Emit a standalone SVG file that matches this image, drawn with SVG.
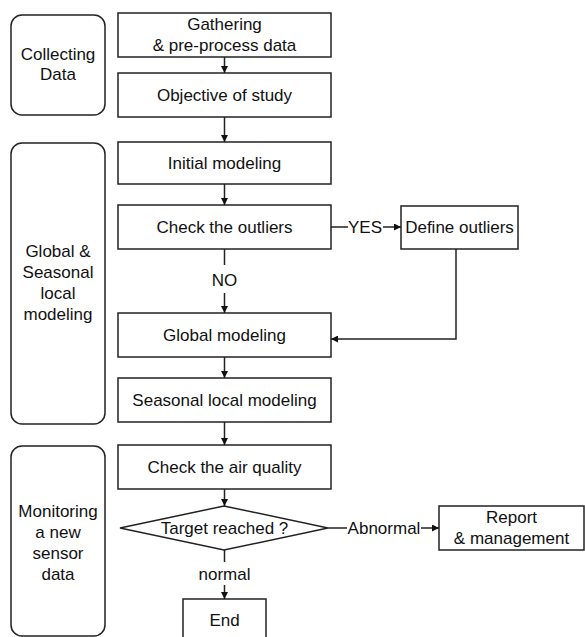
<svg xmlns="http://www.w3.org/2000/svg" width="585" height="637" viewBox="0 0 585 637">
<style>
text{font-family:"Liberation Sans",Arial,sans-serif;font-size:17px;fill:#111;text-anchor:middle}
.box{fill:#fff;stroke:#222;stroke-width:1.5}
.grp{fill:#fff;stroke:#222;stroke-width:1.5}
.ln{fill:none;stroke:#222;stroke-width:1.5}
</style>
<defs>
<marker id="ah" viewBox="0 0 10 10" refX="10" refY="5" markerWidth="7" markerHeight="7" markerUnits="userSpaceOnUse" orient="auto"><path d="M0,0 L10,5 L0,10 z" fill="#111"/></marker>
</defs>
<rect width="585" height="637" fill="#fff"/>
<g id="phase1"><rect class="grp" x="11" y="15" width="94" height="100" rx="11"/><text x="58" y="60">Collecting</text><text x="58" y="80">Data</text></g>
<g id="phase2"><rect class="grp" x="11" y="143" width="94" height="281" rx="11"/><text x="58" y="257">Global &amp;</text><text x="58" y="278">Seasonal</text><text x="58" y="299">local</text><text x="58" y="320">modeling</text></g>
<g id="phase3"><rect class="grp" x="11" y="446" width="94" height="190" rx="11"/><text x="58" y="517">Monitoring</text><text x="58" y="538">a new</text><text x="58" y="559">sensor</text><text x="58" y="580">data</text></g>
<g id="gather"><rect class="box" x="118" y="13" width="213" height="44"/><text x="224.5" y="30">Gathering</text><text x="224.5" y="51">&amp; pre-process data</text></g>
<g id="objective"><rect class="box" x="118" y="73" width="213" height="44"/><text x="224.5" y="101">Objective of study</text></g>
<g id="initial"><rect class="box" x="118" y="142" width="213" height="42"/><text x="224.5" y="169">Initial modeling</text></g>
<g id="check"><rect class="box" x="118" y="205" width="213" height="44"/><text x="224.5" y="233">Check the outliers</text></g>
<g id="define"><rect class="box" x="401" y="206" width="117" height="43"/><text x="459.5" y="233">Define outliers</text></g>
<g id="global"><rect class="box" x="118" y="313" width="213" height="44"/><text x="224.5" y="341">Global modeling</text></g>
<g id="seasonal"><rect class="box" x="118" y="378" width="213" height="44"/><text x="224.5" y="406">Seasonal local modeling</text></g>
<g id="air"><rect class="box" x="118" y="445" width="213" height="44"/><text x="224.5" y="473">Check the air quality</text></g>
<g id="target"><polygon class="box" points="120,528 224,506 328,528 224,550"/><text x="224.5" y="534">Target reached ?</text></g>
<g id="report"><rect class="box" x="439" y="506" width="145" height="44"/><text x="511.5" y="523">Report</text><text x="511.5" y="544">&amp; management</text></g>
<g id="end"><rect class="box" x="183" y="599" width="83" height="40"/><text x="224.5" y="626">End</text></g>
<g id="connectors">
<line class="ln" x1="224.5" y1="57" x2="224.5" y2="73" marker-end="url(#ah)"/>
<line class="ln" x1="224.5" y1="117" x2="224.5" y2="142" marker-end="url(#ah)"/>
<line class="ln" x1="224.5" y1="184" x2="224.5" y2="205" marker-end="url(#ah)"/>
<line class="ln" x1="224.5" y1="249" x2="224.5" y2="265"/>
<text x="224.5" y="286">NO</text>
<line class="ln" x1="224.5" y1="293" x2="224.5" y2="313" marker-end="url(#ah)"/>
<line class="ln" x1="331" y1="227" x2="348" y2="227"/>
<text x="365" y="233">YES</text>
<line class="ln" x1="383" y1="227" x2="401" y2="227" marker-end="url(#ah)"/>
<polyline class="ln" points="456,249 456,339 331,339" marker-end="url(#ah)"/>
<line class="ln" x1="224.5" y1="357" x2="224.5" y2="378" marker-end="url(#ah)"/>
<line class="ln" x1="224.5" y1="422" x2="224.5" y2="445" marker-end="url(#ah)"/>
<line class="ln" x1="224.5" y1="489" x2="224.5" y2="506" marker-end="url(#ah)"/>
<line class="ln" x1="328" y1="528" x2="347" y2="528"/>
<text x="384" y="534">Abnormal</text>
<line class="ln" x1="421" y1="528" x2="439" y2="528" marker-end="url(#ah)"/>
<line class="ln" x1="224.5" y1="550" x2="224.5" y2="562"/>
<text x="224.5" y="580">normal</text>
<line class="ln" x1="224.5" y1="585" x2="224.5" y2="599" marker-end="url(#ah)"/>
</g>
</svg>
